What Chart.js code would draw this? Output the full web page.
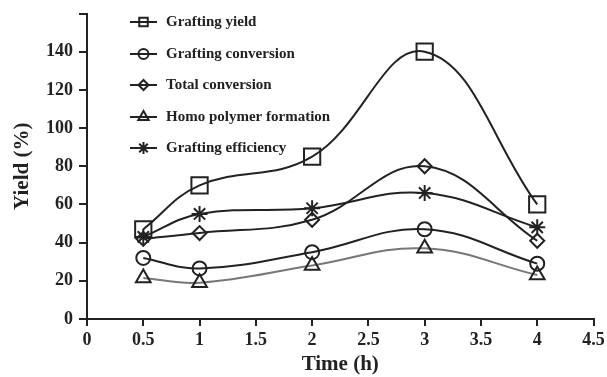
<!DOCTYPE html>
<html>
<head>
<meta charset="utf-8">
<script src="https://cdn.jsdelivr.net/npm/chart.js@4/dist/chart.umd.min.js"></script>
<style>
  html, body { margin: 0; padding: 0; background: #fff; }
  #wrap { width: 607px; height: 377px; }
</style>
</head>
<body>
<div id="wrap"><canvas id="chart1"></canvas></div>
<script>
'use strict';
var times = [0.5, 1, 2, 3, 4];
var graftingYield = [47, 70, 85, 140, 60];
var graftingConversion = [32, 26.5, 35, 47, 29];
var totalConversion = [42, 45, 52, 80, 41];
var homoPolymer = [21.5, 19, 28, 37, 23];
var graftingEfficiency = [43, 55, 58, 66, 48];
var seriesNames = ['Grafting yield', 'Grafting conversion', 'Total conversion', 'Homo polymer formation', 'Grafting efficiency'];
var xTicks = [0, 0.5, 1, 1.5, 2, 2.5, 3, 3.5, 4, 4.5];
var yTicks = [0, 20, 40, 60, 80, 100, 120, 140];

var fontFamily = '"Liberation Serif", "Times New Roman", serif';

var toPoints = function (vals) {
	return vals.map(function (v, i) { return { x: times[i], y: v }; });
};

var makeSet = function (label, vals, style, radius, color) {
	return {
		label: label,
		data: toPoints(vals),
		borderColor: color,
		backgroundColor: 'rgba(0,0,0,0)',
		pointBorderColor: '#222',
		pointBackgroundColor: 'rgba(0,0,0,0)',
		pointBorderWidth: 2,
		pointStyle: style,
		pointRadius: radius,
		borderWidth: 2,
		tension: 0.4,
		fill: false
	};
};

// legend: short line with marker, then bold label (drawn by hand)
var legendRadius = [6, 5, 5, 6, 6];
var legendPlugin = {
	id: 'lineLegend',
	afterDraw: function (chart) {
		var ctx = chart.ctx;
		var rows = [22, 54, 85, 117, 148];
		var sets = chart.data.datasets;
		ctx.save();
		for (var i = 0; i < sets.length; i++) {
			var y = rows[i];
			ctx.strokeStyle = '#222';
			ctx.lineWidth = 2;
			ctx.beginPath();
			ctx.moveTo(130, y);
			ctx.lineTo(157, y);
			ctx.stroke();
			ctx.fillStyle = 'rgba(0,0,0,0)';
			Chart.helpers.drawPoint(ctx, {
				pointStyle: sets[i].pointStyle,
				radius: legendRadius[i],
				rotation: 0,
				borderWidth: 2
			}, 143.5, y);
			ctx.fillStyle = '#222';
			ctx.font = 'bold 15px ' + fontFamily;
			ctx.textBaseline = 'middle';
			ctx.textAlign = 'left';
			ctx.fillText(seriesNames[i], 166, y);
		}
		ctx.restore();
	}
};

var data = {
	datasets: [
		makeSet(seriesNames[0], graftingYield, 'rect', 11.5, '#222'),
		makeSet(seriesNames[1], graftingConversion, 'circle', 7, '#222'),
		makeSet(seriesNames[2], totalConversion, 'rectRot', 7, '#222'),
		makeSet(seriesNames[3], homoPolymer, 'triangle', 8.5, '#777'),
		makeSet(seriesNames[4], graftingEfficiency, 'star', 8, '#222')
	]
};

var options = {
	responsive: true,
	maintainAspectRatio: false,
	animation: false,
	layout: { padding: { top: 13, right: 13, left: 0, bottom: 0 } },
	plugins: {
		legend: { display: false },
		tooltip: { enabled: false }
	},
	scales: {
		x: {
			type: 'linear',
			min: 0,
			max: 4.5,
			afterBuildTicks: function (scale) {
				scale.ticks = xTicks.map(function (v) { return { value: v }; });
			},
			border: { display: true, color: '#222', width: 2 },
			grid: { drawOnChartArea: false, drawTicks: true, tickLength: 7, color: '#222', lineWidth: 2 },
			ticks: {
				color: '#222',
				padding: 4,
				maxRotation: 0,
				autoSkip: false,
				font: { family: fontFamily, size: 18, weight: 'bold' },
				callback: function (v) { return String(v); }
			},
			title: {
				display: true,
				text: 'Time (h)',
				color: '#222',
				padding: { top: 6, bottom: 0 },
				font: { family: fontFamily, size: 21, weight: 'bold' }
			},
			afterFit: function (scale) {
				scale.height = 58;
				scale.paddingRight = 0;
				scale.paddingLeft = 0;
			}
		},
		y: {
			min: 0,
			max: 160,
			afterBuildTicks: function (scale) {
				scale.ticks = yTicks.concat([160]).map(function (v) { return { value: v }; });
			},
			border: { display: true, color: '#222', width: 2 },
			grid: { drawOnChartArea: false, drawTicks: true, tickLength: 8, color: '#222', lineWidth: 2 },
			ticks: {
				color: '#222',
				padding: 6,
				autoSkip: false,
				font: { family: fontFamily, size: 18, weight: 'bold' },
				callback: function (v) { return v === 160 ? '' : String(v); }
			},
			title: {
				display: true,
				text: 'Yield (%)',
				color: '#222',
				padding: { top: 10, bottom: 4 },
				font: { family: fontFamily, size: 21, weight: 'bold' }
			},
			afterFit: function (scale) {
				scale.width = 87;
				scale.paddingTop = 0;
				scale.paddingBottom = 0;
			}
		}
	}
};

var ctx = document.getElementById('chart1');
var myChart = new Chart(ctx, {
	type: 'line',
	data: data,
	options: options,
	plugins: [legendPlugin]
});
</script>
</body>
</html>
